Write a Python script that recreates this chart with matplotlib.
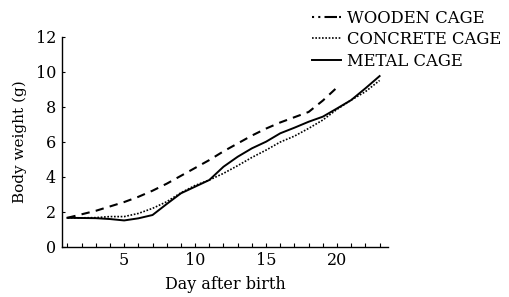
import matplotlib
matplotlib.use("Agg")
import matplotlib.pyplot as plt
from matplotlib.lines import Line2D
from matplotlib.ticker import MultipleLocator

days = [1, 2, 3, 4, 5, 6, 7, 8, 9, 10, 11, 12, 13, 14, 15, 16, 17, 18, 19, 20, 21, 22, 23]
wooden = [1.65, 1.85, 2.05, 2.3, 2.55, 2.85, 3.2, 3.6, 4.05, 4.5, 4.95, 5.45, 5.9, 6.35, 6.75, 7.1, 7.4, 7.7, 8.35, 9.1]
concrete = [1.65, 1.65, 1.66, 1.72, 1.72, 1.9, 2.19, 2.57, 3.08, 3.5, 3.81, 4.19, 4.63, 5.1, 5.52, 5.98, 6.32, 6.76, 7.24, 7.85, 8.38, 8.86, 9.5]
metal = [1.65, 1.64, 1.63, 1.58, 1.5, 1.62, 1.81, 2.44, 3.05, 3.43, 3.81, 4.57, 5.14, 5.62, 6.0, 6.48, 6.8, 7.14, 7.43, 7.9, 8.38, 9.05, 9.75]
labels = ["WOODEN CAGE", "CONCRETE CAGE", "METAL CAGE"]
yticks = [0, 2, 4, 6, 8, 10, 12]
xticks = [5, 10, 15, 20]

plt.rcParams['font.family'] = ['DejaVu Serif']

fig = plt.figure(figsize=(5.1, 2.97), dpi=100)
ax = fig.add_axes([0.121, 0.1694, 0.640, 0.707])

ax.plot(days[:len(wooden)], wooden, color='black', lw=1.5, linestyle=(0, (4, 3)))
ax.plot(days, concrete, color='black', lw=1.2, linestyle=(0, (1, 1)))
ax.plot(days, metal, color='black', lw=1.4, linestyle='-')

ax.set_xlim(0.6, 23.6)
ax.set_ylim(0, 12)
ax.set_xticks(xticks)
ax.set_yticks(yticks)
ax.xaxis.set_minor_locator(MultipleLocator(1))
ax.tick_params(axis='x', which='both', direction='in', length=3, width=0.8, labelsize=11.5, pad=4)
ax.tick_params(axis='y', which='both', direction='in', length=2, width=0.8, labelsize=11.5, pad=4)
for s in ['top', 'right']:
    ax.spines[s].set_visible(False)
for s in ['left', 'bottom']:
    ax.spines[s].set_linewidth(1.0)

ax.set_xlabel("Day after birth", fontsize=11.5, labelpad=5)
ax.set_ylabel("Body weight (g)", fontsize=11, labelpad=6)

handles = [
    Line2D([], [], color='black', lw=1.5, linestyle=(0, (1, 2, 1, 2, 6, 1))),
    Line2D([], [], color='black', lw=1.2, linestyle=(0, (1, 1))),
    Line2D([], [], color='black', lw=1.4, linestyle='-'),
]
fig.legend(handles, labels, loc='upper left', bbox_to_anchor=(0.612, 0.968),
           frameon=False, fontsize=11.8, handlelength=1.75, handletextpad=0.4,
           labelspacing=0.28, borderaxespad=0, borderpad=0)

fig.savefig("out.png", dpi=100)
